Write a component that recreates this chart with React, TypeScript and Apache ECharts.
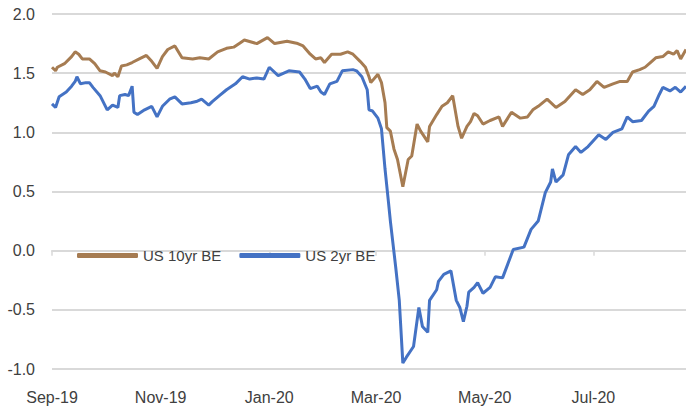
import React, { useEffect, useRef } from "react";
import * as echarts from "echarts";

// x values: days since 2019-09-01
const tenYrDays = [0, 2, 3, 7, 11, 13, 15, 17, 21, 24, 27, 30, 34, 35, 37, 39, 42, 45, 49, 53, 56, 59, 62, 65, 69, 73, 79, 83, 88, 93, 98, 102, 106, 108, 115, 121, 125, 132, 138, 141, 145, 148, 151, 153, 157, 162, 166, 169, 173, 176, 178, 179, 183, 185, 187, 188, 190, 192, 194, 197, 200, 202, 205, 207, 211, 212, 216, 219, 222, 225, 228, 230, 233, 235, 237, 239, 242, 246, 251, 253, 258, 263, 267, 270, 273, 278, 283, 288, 294, 298, 302, 306, 310, 315, 319, 323, 326, 330, 333, 336, 339, 343, 346, 349, 351, 353, 356];
const tenYrValues = [1.55, 1.52, 1.55, 1.58, 1.64, 1.68, 1.66, 1.62, 1.62, 1.58, 1.52, 1.51, 1.48, 1.5, 1.47, 1.56, 1.57, 1.59, 1.62, 1.65, 1.6, 1.54, 1.64, 1.7, 1.73, 1.63, 1.62, 1.63, 1.62, 1.68, 1.71, 1.72, 1.76, 1.78, 1.75, 1.8, 1.75, 1.77, 1.75, 1.73, 1.66, 1.62, 1.63, 1.59, 1.66, 1.66, 1.68, 1.66, 1.6, 1.55, 1.47, 1.42, 1.49, 1.42, 1.25, 1.04, 1.01, 0.86, 0.77, 0.54, 0.77, 0.8, 1.07, 1.01, 0.92, 1.05, 1.15, 1.22, 1.25, 1.31, 1.05, 0.95, 1.05, 1.09, 1.16, 1.14, 1.07, 1.1, 1.13, 1.05, 1.17, 1.12, 1.13, 1.19, 1.22, 1.28, 1.21, 1.26, 1.36, 1.32, 1.36, 1.43, 1.38, 1.41, 1.43, 1.43, 1.51, 1.53, 1.55, 1.59, 1.63, 1.64, 1.68, 1.66, 1.69, 1.62, 1.7];

const twoYrDays = [0, 2, 4, 8, 11, 13, 14, 16, 19, 21, 23, 27, 31, 34, 37, 38, 41, 43, 45, 46, 48, 52, 56, 59, 62, 66, 69, 73, 78, 81, 84, 88, 90, 94, 98, 103, 107, 111, 115, 119, 122, 127, 133, 139, 142, 145, 149, 151, 153, 156, 160, 163, 169, 171, 174, 177, 178, 180, 183, 185, 187, 189, 190, 193, 195, 197, 199, 203, 206, 208, 211, 212, 216, 217, 220, 224, 227, 229, 231, 233, 234, 237, 239, 242, 246, 249, 253, 259, 265, 269, 273, 277, 280, 281, 283, 287, 290, 294, 297, 301, 307, 311, 315, 320, 323, 326, 331, 335, 338, 341, 343, 347, 350, 353, 356];
const twoYrValues = [1.24, 1.21, 1.3, 1.34, 1.39, 1.43, 1.47, 1.41, 1.42, 1.42, 1.38, 1.31, 1.19, 1.23, 1.21, 1.31, 1.32, 1.31, 1.39, 1.17, 1.15, 1.19, 1.22, 1.13, 1.22, 1.28, 1.3, 1.24, 1.25, 1.26, 1.28, 1.23, 1.26, 1.31, 1.36, 1.41, 1.47, 1.45, 1.46, 1.45, 1.55, 1.48, 1.52, 1.51, 1.45, 1.37, 1.39, 1.34, 1.32, 1.41, 1.43, 1.52, 1.53, 1.52, 1.47, 1.36, 1.19, 1.18, 1.12, 1.03, 0.69, 0.4, 0.25, -0.14, -0.42, -0.95, -0.9, -0.81, -0.48, -0.64, -0.69, -0.42, -0.33, -0.26, -0.2, -0.17, -0.42, -0.48, -0.6, -0.47, -0.35, -0.31, -0.27, -0.36, -0.31, -0.22, -0.23, 0.01, 0.03, 0.18, 0.25, 0.49, 0.58, 0.69, 0.58, 0.64, 0.81, 0.88, 0.83, 0.88, 0.98, 0.94, 1.0, 1.03, 1.13, 1.09, 1.1, 1.18, 1.22, 1.32, 1.38, 1.35, 1.38, 1.34, 1.39];

const seriesNames = ["US 10yr BE", "US 2yr BE"];
const seriesColors = ["#A67C52", "#4472C4"];
const tickMonths: [number, number][] = [[2019, 8], [2019, 10], [2020, 0], [2020, 2], [2020, 4], [2020, 6]];
const monthNames = ["Jan", "Feb", "Mar", "Apr", "May", "Jun", "Jul", "Aug", "Sep", "Oct", "Nov", "Dec"];
const yTicks = { min: -1, max: 2, interval: 0.5 };

const DAY = 86400000;
const BASE_Y = 2019;
const BASE_M = 8;
const LAST_DAY = 356;

const FONT = "'Liberation Sans', Arial, sans-serif";
const TEXT = "#404040";
const GRID = "#D9D9D9";

const baseUTC = Date.UTC(BASE_Y, BASE_M, 1);
const dayOf = (y: number, m: number) => Math.round((Date.UTC(y, m, 1) - baseUTC) / DAY);

export default function App() {
  const ref = useRef<HTMLDivElement>(null);
  useEffect(() => {
    if (!ref.current) return;
    const chart = echarts.init(ref.current, null, { renderer: "svg" });
    const ticks = tickMonths.map(([y, m]) => dayOf(y, m));
    const fmt = (v: number) => {
      const d = new Date(baseUTC + Math.round(v) * DAY);
      return monthNames[d.getUTCMonth()] + "-" + String(d.getUTCFullYear()).slice(2);
    };
    const mk = (days: number[], vals: number[]) => days.map((d, i) => [d, vals[i]]);
    chart.setOption({
      animation: false,
      grid: { left: 52, right: 0, top: 14, bottom: 43 },
      legend: {
        left: 77,
        top: 248,
        padding: 0,
        itemGap: 18,
        itemWidth: 61,
        itemHeight: 5,
        icon: "roundRect",
        data: seriesNames,
        textStyle: { fontFamily: FONT, fontSize: 15, color: TEXT },
      },
      xAxis: [
        {
          type: "value",
          min: 0,
          max: LAST_DAY,
          position: "bottom",
          axisLine: { show: true, onZero: true, lineStyle: { color: GRID, width: 2 } },
          axisTick: { show: true, customValues: ticks, length: 5, lineStyle: { color: GRID, width: 1.5 } },
          axisLabel: { show: false },
          splitLine: { show: false },
        },
        {
          type: "value",
          min: 0,
          max: LAST_DAY,
          position: "bottom",
          axisLine: { show: false, onZero: false },
          axisTick: { show: false },
          splitLine: { show: false },
          axisLabel: {
            customValues: ticks,
            formatter: fmt,
            fontFamily: FONT,
            fontSize: 16,
            color: TEXT,
            margin: 20,
            hideOverlap: false,
          },
        },
      ],
      yAxis: {
        type: "value",
        min: yTicks.min,
        max: yTicks.max,
        interval: yTicks.interval,
        axisLine: { show: false },
        axisTick: { show: false },
        axisLabel: {
          formatter: (v: number) => v.toFixed(1),
          fontFamily: FONT,
          fontSize: 16,
          color: TEXT,
          margin: 17,
        },
        splitLine: { lineStyle: { color: GRID, width: 2 } },
      },
      series: [
        {
          name: seriesNames[0],
          type: "line",
          xAxisIndex: 0,
          data: mk(tenYrDays, tenYrValues),
          showSymbol: false,
          symbol: "none",
          lineStyle: { width: 3, color: seriesColors[0] },
          itemStyle: { color: seriesColors[0] },
        },
        {
          name: seriesNames[1],
          type: "line",
          xAxisIndex: 0,
          data: mk(twoYrDays, twoYrValues),
          showSymbol: false,
          symbol: "none",
          lineStyle: { width: 3, color: seriesColors[1] },
          itemStyle: { color: seriesColors[1] },
        },
      ],
    });
    return () => chart.dispose();
  }, []);
  return (
    <div
      ref={ref}
      style={{ position: "fixed", left: 0, top: 0, width: 686, height: 412, background: "#fff" }}
    />
  );
}
